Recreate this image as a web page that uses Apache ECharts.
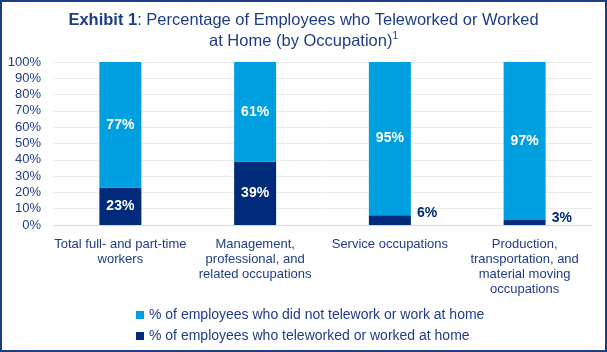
<!DOCTYPE html>
<html>
<head>
<meta charset="utf-8">
<script src="https://cdn.jsdelivr.net/npm/echarts@6/dist/echarts.min.js"></script>
<style>
  html, body { margin: 0; padding: 0; background: #fff; }
  #chart { width: 607px; height: 352px; position: relative; }
  #frame { position: absolute; left: 0; top: 0; width: 607px; height: 352px; box-sizing: border-box; border: 2px solid #1f3c88; pointer-events: none; }
</style>
</head>
<body>
<div style="position:relative">
  <div id="chart"></div>
  <div id="frame"></div>
</div>
<script>
// data
const categories = [
  "Total full- and part-time\nworkers",
  "Management,\nprofessional, and\nrelated occupations",
  "Service occupations",
  "Production,\ntransportation, and\nmaterial moving\noccupations"
];
const teleworked = [23, 39, 6, 3];
const notTeleworked = [77, 61, 95, 97];
const seriesNames = [
  "% of employees who did not telework or work at home",
  "% of employees who teleworked or worked at home"
];

const navy = "#002a7a";
const lightBlue = "#00a0e0";
const textColor = "#1f3c88";
const font = "Liberation Sans";

const chart = echarts.init(document.getElementById("chart"));

const option = {
  animation: false,
  textStyle: { fontFamily: font, color: textColor },
  title: {
    left: "center",
    top: 5,
    text: "{b|Exhibit 1}{n|: Percentage of Employees who Teleworked or Worked}\n{n|at Home (by Occupation)}{s|1}",
    textStyle: {
      fontWeight: "normal",
      rich: {
        b: { fontFamily: font, fontWeight: "bold", fontSize: 16.5, color: textColor, lineHeight: 21 },
        n: { fontFamily: font, fontWeight: "normal", fontSize: 16.5, color: textColor, lineHeight: 21 },
        s: { fontFamily: font, fontWeight: "normal", fontSize: 10, color: textColor, lineHeight: 21, verticalAlign: "top", padding: [0, 0, 6, 0] }
      }
    }
  },
  grid: { left: 53, right: 15, top: 62, bottom: 127 },
  legend: {
    orient: "vertical",
    left: 131,
    top: 303,
    itemWidth: 8,
    itemHeight: 8,
    itemGap: 7,
    icon: "rect",
    textStyle: { fontFamily: font, fontSize: 14, color: textColor },
    data: [seriesNames[0], seriesNames[1]]
  },
  xAxis: {
    type: "category",
    data: categories,
    axisLine: { show: true, lineStyle: { color: "#d9d9d9" } },
    axisTick: { show: false },
    axisLabel: { fontFamily: font, fontSize: 13, color: textColor, lineHeight: 15, margin: 12, interval: 0 }
  },
  yAxis: {
    type: "value",
    min: 0,
    max: 100,
    interval: 10,
    axisLine: { show: false },
    axisTick: { show: false },
    splitLine: { lineStyle: { color: "#ebebeb", width: 1 } },
    axisLabel: { fontFamily: font, fontSize: 13, color: textColor, margin: 12, formatter: "{value}%" }
  },
  series: [
    {
      name: seriesNames[1],
      type: "bar",
      stack: "total",
      barWidth: 42,
      itemStyle: { color: navy },
      data: teleworked.map(v => ({
        value: v,
        label: v < 10
          ? { show: true, position: ["100%", 0], align: "left", verticalAlign: "middle", offset: [6, -2], color: navy }
          : { show: true, position: "inside", color: "#fff" }
      })),
      label: { fontFamily: font, fontWeight: "bold", fontSize: 14, formatter: "{c}%" }
    },
    {
      name: seriesNames[0],
      type: "bar",
      stack: "total",
      barWidth: 42,
      itemStyle: { color: lightBlue },
      data: notTeleworked,
      label: { show: true, position: "inside", color: "#fff", fontFamily: font, fontWeight: "bold", fontSize: 14, formatter: "{c}%" }
    }
  ]
};

chart.setOption(option);
</script>
</body>
</html>
